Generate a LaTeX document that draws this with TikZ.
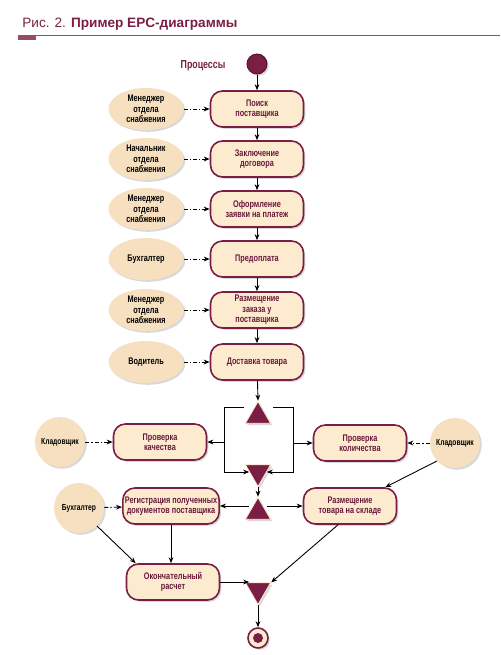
\documentclass[tikz,border=0pt]{standalone}
\usepackage{fontspec}
\setmainfont{Liberation Sans}
\newfontfamily\condfont{Liberation Sans}[FakeStretch=0.76]
\usetikzlibrary{positioning,arrows.meta,shapes.geometric,shadows}
\definecolor{epcRed}{RGB}{122,30,68}
\definecolor{epcCream}{RGB}{253,235,208}
\definecolor{epcSand}{RGB}{246,224,192}
\newcommand{\boxfont}{\condfont\bfseries\fontsize{4.8}{5.2}\selectfont}

\begin{document}
\begin{tikzpicture}[x=0.5pt,y=-0.5pt,
  shd/.style={drop shadow={opacity=0.3,shadow xshift=0.9pt,shadow yshift=-0.9pt}},
  proc/.style={
    draw=epcRed, line width=0.8pt, fill=epcCream, rounded corners=6pt,
    minimum width=46.5pt, minimum height=18pt, inner sep=1pt,
    align=center, font=\boxfont, text=epcRed!85!black, shd
  },
  role/.style={ellipse, fill=epcSand, minimum width=37.5pt,
    minimum height=21pt, inner sep=0pt, align=center, font=\boxfont, shd},
  keeper/.style={circle, fill=epcSand, minimum size=25pt, inner sep=0pt,
    font=\condfont\bfseries\fontsize{4.4}{5}\selectfont, shd},
  gate/.style={regular polygon, regular polygon sides=3, fill=epcRed,
    draw=epcCream, line width=0.4pt, minimum size=14.5pt, inner sep=0pt, shd},
  arr/.style={-{Stealth[length=3pt,width=2.4pt]},line width=0.45pt},
  dsh/.style={arr,dash pattern=on 2pt off 1pt on 0.6pt off 1pt},
  ln/.style={line width=0.45pt}
]
\useasboundingbox (0,0) rectangle (500,655);

% title
\node[anchor=base west, inner sep=0pt, text=epcRed, font=\fontsize{6.8}{8}\selectfont]
  (title) at (22,27) {Рис. 2. \textbf{Пример EPC-диаграммы}};
\draw[epcRed!80, line width=0.5pt] (18,35) -- (500,35);
\fill[epcRed!80] (18,35) rectangle (36,40);

% start
\node[circle, fill=epcRed, draw=epcRed!70!black, line width=0.5pt,
  minimum size=10pt, inner sep=0pt, shd] (start) at (257,64) {};
\node[text=epcRed, font=\condfont\bfseries\fontsize{5.8}{6}\selectfont]
  (lblProc) at (203,66) {Процессы};

% processes
\node[proc] (search) at (257,109) {Поиск\\поставщика};
\node[proc] (deal)   at (257,159) {Заключение\\договора};
\node[proc] (bill)   at (257,209) {Оформление\\заявки на платеж};
\node[proc] (prepay) at (257,259) {Предоплата};
\node[proc] (order)  at (257,310) {Размещение\\заказа у\\поставщика};
\node[proc] (ship)   at (257,362) {Доставка товара};

\node[role] (mgrA)  at (146,109) {Менеджер\\отдела\\снабжения};
\node[role] (chief) at (146,159) {Начальник\\отдела\\снабжения};
\node[role] (mgrB)  at (146,209) {Менеджер\\отдела\\снабжения};
\node[role] (accA)  at (146,259) {Бухгалтер};
\node[role] (mgrC)  at (146,310) {Менеджер\\отдела\\снабжения};
\node[role] (drv)   at (146,362) {Водитель};

\draw[arr] (start) -- (search);
\draw[arr] (search) -- (deal);
\draw[arr] (deal) -- (bill);
\draw[arr] (bill) -- (prepay);
\draw[arr] (prepay) -- (order);
\draw[arr] (order) -- (ship);

\draw[dsh] (mgrA) -- (search);
\draw[dsh] (chief) -- (deal);
\draw[dsh] (mgrB) -- (bill);
\draw[dsh] (accA) -- (prepay);
\draw[dsh] (mgrC) -- (order);
\draw[dsh] (drv) -- (ship);

% checks
\node[gate] (andA) at (258,416) {};
\node[gate, shape border rotate=180] (andB) at (258,472) {};
\node[proc] (qual) at (160,442) {Проверка\\качества};
\node[proc] (quan) at (360,443) {Проверка\\количества};
\node[keeper] (keepL) at (60,442) {Кладовщик};
\node[keeper] (keepR) at (455,443) {Кладовщик};

\coordinate (jl0) at (244,407);
\coordinate (jl)  at (224,407);
\coordinate (jr0) at (273,407);
\coordinate (jr)  at (293,407);

\draw[arr] (ship) -- (andA.north);
\draw[arr] (jl0) -- (jl) |- (andB.west);
\draw[arr] (jr0) -- (jr) |- (andB.east);
\draw[arr] (jl |- qual.east) -- (qual.east);
\draw[arr] (jr |- quan.west) -- (quan.west);
\draw[dsh] (keepL) -- (qual);
\draw[dsh] (keepR) -- (quan);

% storing and payment
\node[gate] (andC) at (258,512) {};
\node[proc] (reg)   at (171,506) {Регистрация полученных\\документов поставщика};
\node[proc] (place) at (350,506) {Размещение\\товара на складе};
\node[keeper] (accB) at (79,508) {Бухгалтер};
\node[proc] (final) at (173,582) {Окончательный\\расчет};
\node[gate, shape border rotate=180] (andD) at (258,590) {};

\draw[arr] (andB.south) -- (andC.north);
\draw[arr] (reg.east -| andC.west) -- (reg.east);
\draw[arr] (place.west -| andC.east) -- (place.west);
\draw[arr] (keepR.south west) -- ([xshift=-6pt]place.north east);
\draw[dsh] (accB) -- (reg);
\draw[arr] (accB.south east) -- ([xshift=5pt]final.north west);
\draw[arr] (reg.south) -- (reg.south |- final.north);
\draw[arr] (final.east) -- (final.east -| andD.west);
\draw[arr] ([xshift=-6pt]place.south) -- (andD.corner 2);

% end
\node[circle, fill=epcCream, draw=epcRed, line width=0.8pt,
  minimum size=10pt, inner sep=0pt, shd] (stop) at (258,638) {};
\fill[epcRed] (stop.center) circle (5);
\draw[arr] (andD.south) -- (stop.north);

\end{tikzpicture}
\end{document}
